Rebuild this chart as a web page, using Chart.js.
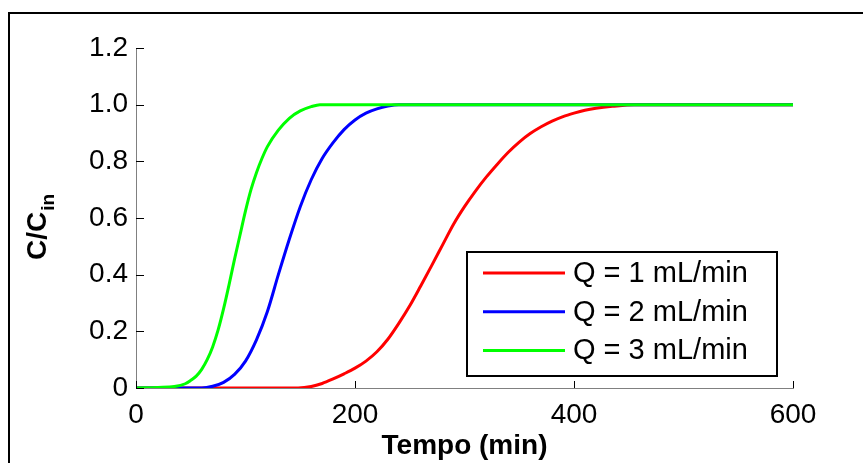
<!DOCTYPE html>
<html>
<head>
<meta charset="utf-8">
<script src="https://cdn.jsdelivr.net/npm/chart.js@4/dist/chart.umd.min.js"></script>
<style>
  body { margin: 0; background: #fff; }
  #wrap { position: relative; width: 863px; height: 463px; overflow: hidden; }
  #frame { position: absolute; left: 8px; top: 12px; width: 900px; height: 500px; border: 2px solid #000; }
  #grafico { position: absolute; left: 0; top: 0; }
</style>
</head>
<body>
<div id="wrap">
  <div id="frame"></div>
  <canvas id="grafico" width="863" height="463"></canvas>
</div>
<script>
// tempos (min) e C/Cin
const tempo1 = [0, 148, 160, 170, 180, 190, 200, 210, 220, 230, 240, 250, 260, 270, 280, 290, 300, 310, 320, 330, 340, 350, 360, 370, 380, 390, 400, 410, 420, 435, 455, 600];
const c1 = [0, 0, 0.005, 0.016, 0.032, 0.05, 0.07, 0.095, 0.128, 0.172, 0.228, 0.29, 0.36, 0.432, 0.505, 0.578, 0.64, 0.695, 0.745, 0.79, 0.832, 0.868, 0.898, 0.922, 0.942, 0.958, 0.97, 0.98, 0.987, 0.994, 1.0, 1.0];

const tempo2 = [0, 60, 70, 80, 90, 100, 110, 120, 130, 140, 150, 160, 170, 180, 190, 200, 210, 220, 230, 240, 600];
const c2 = [0, 0, 0.006, 0.02, 0.048, 0.095, 0.17, 0.27, 0.40, 0.525, 0.64, 0.735, 0.81, 0.866, 0.912, 0.946, 0.97, 0.985, 0.995, 1.0, 1.0];

const tempo3 = [0, 20, 35, 45, 50, 55, 60, 65, 70, 75, 80, 85, 90, 95, 100, 105, 110, 115, 120, 130, 140, 150, 160, 168, 600];
const c3 = [0, 0.002, 0.005, 0.015, 0.027, 0.042, 0.066, 0.1, 0.145, 0.205, 0.28, 0.365, 0.455, 0.54, 0.625, 0.70, 0.76, 0.81, 0.852, 0.91, 0.952, 0.978, 0.993, 1.0, 1.0];

const legendas = ["Q = 1 mL/min", "Q = 2 mL/min", "Q = 3 mL/min"];
const xTicks = [0, 200, 400, 600];
const yTickLabels = ["0", "0.2", "0.4", "0.6", "0.8", "1.0", "1.2"];

const pontos = (t, c) => t.map((v, i) => ({ x: v, y: c[i] }));

// ticks para dentro, estilo MATLAB
const ticksDentro = {
  id: "ticksDentro",
  afterDraw(chart) {
    const { ctx, chartArea, scales } = chart;
    ctx.save();
    ctx.strokeStyle = "#000";
    ctx.lineWidth = 1;
    scales.y.ticks.forEach((t) => {
      const y = Math.round(scales.y.getPixelForValue(t.value)) + 0.5;
      ctx.beginPath();
      ctx.moveTo(chartArea.left, y);
      ctx.lineTo(chartArea.left + 8, y);
      ctx.stroke();
    });
    scales.x.ticks.forEach((t) => {
      const x = Math.round(scales.x.getPixelForValue(t.value)) + 0.5;
      ctx.beginPath();
      ctx.moveTo(x, chartArea.bottom);
      ctx.lineTo(x, chartArea.bottom - 7);
      ctx.stroke();
    });
    ctx.restore();
  },
};

// título do eixo y com subscrito
const tituloY = {
  id: "tituloY",
  afterDraw(chart) {
    const ctx = chart.ctx;
    ctx.save();
    ctx.translate(46, 260);
    ctx.rotate(-Math.PI / 2);
    ctx.fillStyle = "#000";
    ctx.textBaseline = "alphabetic";
    ctx.font = "bold 28px 'Liberation Sans', Arial, sans-serif";
    ctx.fillText("C/C", 0, 0);
    const w = ctx.measureText("C/C").width;
    ctx.font = "bold 19px 'Liberation Sans', Arial, sans-serif";
    ctx.fillText("in", w + 1, 8);
    ctx.restore();
  },
};

// legenda com caixa dentro da área do gráfico
const legendaCaixa = {
  id: "legendaCaixa",
  afterDraw(chart) {
    const ctx = chart.ctx;
    const bx = 467, by = 252, bw = 310, bh = 124;
    ctx.save();
    ctx.fillStyle = "#fff";
    ctx.fillRect(bx, by, bw, bh);
    ctx.strokeStyle = "#000";
    ctx.lineWidth = 2;
    ctx.strokeRect(bx, by, bw, bh);
    ctx.font = "29px 'Liberation Sans', Arial, sans-serif";
    ctx.textBaseline = "middle";
    chart.data.datasets.forEach((ds, i) => {
      const y = 273 + i * 38.7;
      ctx.strokeStyle = ds.borderColor;
      ctx.lineWidth = 3;
      ctx.beginPath();
      ctx.moveTo(483, y);
      ctx.lineTo(565, y);
      ctx.stroke();
      ctx.fillStyle = "#000";
      ctx.fillText(ds.label, 573, y + 1);
    });
    ctx.restore();
  },
};

new Chart(document.getElementById("grafico"), {
  type: "line",
  data: {
    datasets: [
      { label: legendas[0], data: pontos(tempo1, c1), borderColor: "#ff0000", order: 2 },
      { label: legendas[1], data: pontos(tempo2, c2), borderColor: "#0000ff", order: 1 },
      { label: legendas[2], data: pontos(tempo3, c3), borderColor: "#00ff00", order: 0 },
    ],
  },
  options: {
    responsive: false,
    animation: false,
    layout: { padding: { left: 0, top: 48, right: 70, bottom: 0 } },
    elements: {
      point: { radius: 0 },
      line: { borderWidth: 3, cubicInterpolationMode: "monotone", fill: false },
    },
    plugins: { legend: { display: false }, tooltip: { enabled: false } },
    scales: {
      x: {
        type: "linear",
        min: 0,
        max: 600,
        afterBuildTicks: (s) => { s.ticks = xTicks.map((v) => ({ value: v })); },
        afterFit: (s) => { s.height = 75; },
        grid: { display: false, drawTicks: false },
        border: { display: true, color: "#808080", width: 1 },
        ticks: {
          padding: 10,
          color: "#000",
          font: { family: "'Liberation Sans', Arial, sans-serif", size: 28 },
        },
        title: {
          display: true,
          text: "Tempo (min)",
          color: "#000",
          padding: { top: 0, bottom: 0 },
          font: { family: "'Liberation Sans', Arial, sans-serif", size: 28, weight: "bold" },
        },
      },
      y: {
        min: 0,
        max: 1.2,
        afterFit: (s) => { s.width = 136; },
        grid: { display: false, drawTicks: false },
        border: { display: true, color: "#808080", width: 1 },
        ticks: {
          stepSize: 0.2,
          padding: 8,
          color: "#000",
          font: { family: "'Liberation Sans', Arial, sans-serif", size: 28 },
          callback: (v, i) => yTickLabels[i],
        },
      },
    },
  },
  plugins: [ticksDentro, tituloY, legendaCaixa],
});
</script>
</body>
</html>
